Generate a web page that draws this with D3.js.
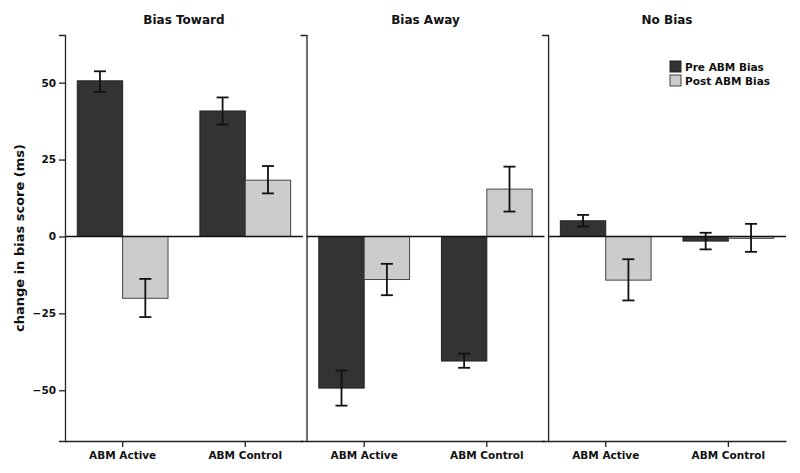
<!DOCTYPE html>
<html>
<head>
<meta charset="utf-8">
<script src="https://cdn.jsdelivr.net/npm/d3@7"></script>
<style>
  body { margin: 0; background: #fff; }
  svg text { font-family: "DejaVu Sans", sans-serif; font-weight: bold; fill: #111; }
</style>
</head>
<body>
<svg id="chart" width="800" height="473"></svg>
<script>
// panels, groups and the two series
const panels = ["Bias Toward", "Bias Away", "No Bias"];
const groups = ["ABM Active", "ABM Control"];
const series = ["Pre ABM Bias", "Post ABM Bias"];
const yTicks = [-50, -25, 0, 25, 50];

// one value per panel x group, in order: Toward/Active, Toward/Control, Away/Active, ...
const preMean = [50.6, 40.8, -49.3, -40.5, 5.1, -1.5];
const preLow = [47.0, 36.4, -55.0, -42.7, 3.2, -4.2];
const preHigh = [53.7, 45.2, -43.6, -38.1, 7.0, 1.2];
const postMean = [-20.1, 18.3, -14.0, 15.4, -14.2, -0.6];
const postLow = [-26.2, 14.0, -19.1, 8.1, -20.8, -5.0];
const postHigh = [-13.8, 22.9, -8.9, 22.7, -7.4, 4.1];

const svg = d3.select("#chart");
const plotTop = 35, plotBottom = 441;
const fills = {"Pre ABM Bias": "#333333", "Post ABM Bias": "#cccccc"};
const strokes = {"Pre ABM Bias": "#222222", "Post ABM Bias": "#444444"};

const y = d3.scaleLinear().domain([-66.5, 65.5]).range([plotBottom, plotTop]);
const px = d3.scaleBand().domain(panels).range([65, 786]).paddingInner(0.015);
const pw = px.bandwidth();
const gx = d3.scaleBand().domain(groups).range([0, pw]).paddingInner(0.26).paddingOuter(0.1);
const sx = d3.scaleBand().domain(series).range([0, gx.bandwidth()]);

// flatten to rows
const rows = [];
panels.forEach(function (p, pi) {
    groups.forEach(function (g, gi) {
        const k = pi * groups.length + gi;
        rows.push({panel: p, group: g, series: series[0], mean: preMean[k], lo: preLow[k], hi: preHigh[k]});
        rows.push({panel: p, group: g, series: series[1], mean: postMean[k], lo: postLow[k], hi: postHigh[k]});
    });
});

const panelG = svg.selectAll("g.panel").data(panels).enter().append("g")
    .attr("class", "panel")
    .attr("transform", function (d) { return "translate(" + px(d) + ",0)"; });

panelG.append("text")
    .attr("x", pw / 2)
    .attr("y", 24)
    .attr("text-anchor", "middle")
    .style("font-size", "12px")
    .text(function (d) { return d; });

// bars
panelG.selectAll("rect.bar")
    .data(function (p) { return rows.filter(function (r) { return r.panel === p; }); })
    .enter().append("rect")
    .attr("class", "bar")
    .attr("x", function (d) { return gx(d.group) + sx(d.series); })
    .attr("width", sx.bandwidth())
    .attr("y", function (d) { return y(Math.max(0, d.mean)); })
    .attr("height", function (d) { return Math.abs(y(d.mean) - y(0)); })
    .attr("fill", function (d) { return fills[d.series]; })
    .attr("stroke", function (d) { return strokes[d.series]; })
    .attr("stroke-width", 1);

// zero line
panelG.append("line")
    .attr("x1", 0).attr("x2", pw)
    .attr("y1", y(0)).attr("y2", y(0))
    .attr("stroke", "#111").attr("stroke-width", 1.6);

// error bars
const err = panelG.selectAll("g.err")
    .data(function (p) { return rows.filter(function (r) { return r.panel === p; }); })
    .enter().append("g")
    .attr("class", "err")
    .attr("transform", function (d) { return "translate(" + (gx(d.group) + sx(d.series) + sx.bandwidth() / 2) + ",0)"; })
    .attr("stroke", "#111").attr("stroke-width", 1.8);
err.append("line").attr("y1", function (d) { return y(d.lo); }).attr("y2", function (d) { return y(d.hi); });
err.append("line").attr("x1", -6).attr("x2", 6).attr("y1", function (d) { return y(d.lo); }).attr("y2", function (d) { return y(d.lo); });
err.append("line").attr("x1", -6).attr("x2", 6).attr("y1", function (d) { return y(d.hi); }).attr("y2", function (d) { return y(d.hi); });

// bottom axes
panelG.append("g")
    .attr("transform", "translate(0," + plotBottom + ")")
    .each(function () {
        d3.select(this).call(d3.axisBottom(gx).tickSize(6).tickSizeOuter(0).tickPadding(5));
    });

// left axes: ticks only on the first panel
panelG.append("g").each(function (p, i) {
    const ax = d3.axisLeft(y).tickSizeOuter(0).tickSize(6).tickPadding(3);
    if (i === 0) {
        ax.tickValues(yTicks);
    } else {
        ax.tickValues([]);
    }
    d3.select(this).call(ax);
});

svg.selectAll(".domain, .tick line").attr("stroke", "#222").attr("stroke-width", 1.3);
svg.selectAll(".tick text").style("font-size", "10.5px").attr("fill", "#111");

// y label
svg.append("text")
    .attr("transform", "translate(19," + (plotTop + plotBottom) / 2 + ") rotate(-90)")
    .attr("text-anchor", "middle")
    .attr("dominant-baseline", "central")
    .style("font-size", "13px")
    .text("change in bias score (ms)");

// legend in last panel
const leg = svg.append("g").attr("transform", "translate(670,61)");
const li = leg.selectAll("g").data(series).enter().append("g")
    .attr("transform", function (d, i) { return "translate(0," + i * 14 + ")"; });
li.append("rect").attr("width", 11).attr("height", 11)
    .attr("fill", function (d) { return fills[d]; })
    .attr("stroke", function (d) { return strokes[d]; });
li.append("text").attr("x", 15).attr("y", 10)
    .style("font-size", "10.5px")
    .text(function (d) { return d; });
</script>
</body>
</html>
